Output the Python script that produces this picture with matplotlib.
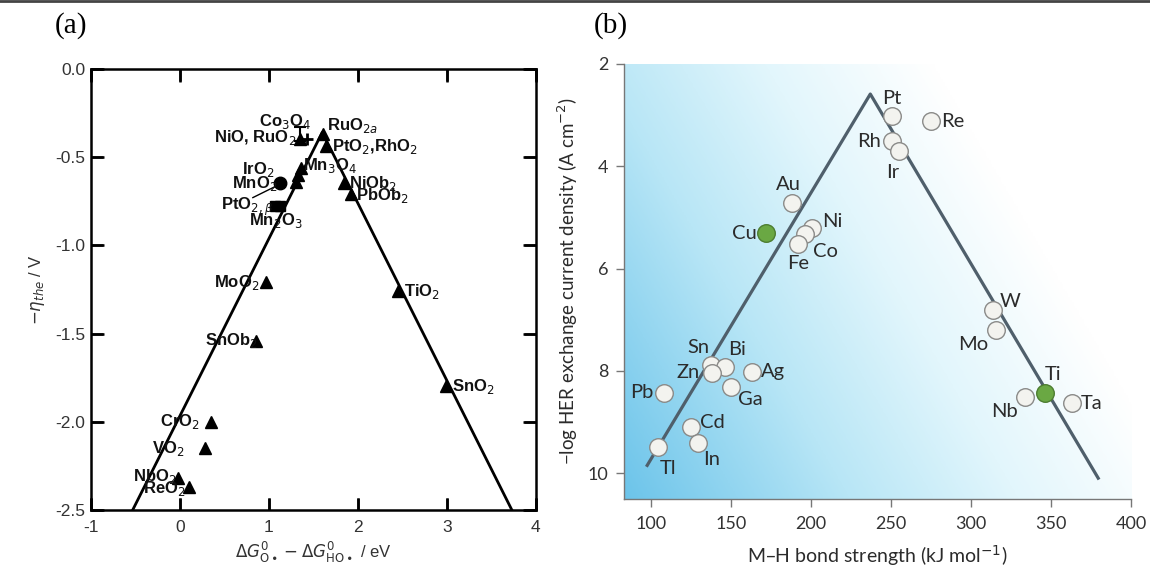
#!/usr/bin/env python3

import numpy as np
import matplotlib
matplotlib.use('Agg')
import matplotlib.pyplot as plt
import matplotlib.transforms as mtransforms
from matplotlib.colors import LinearSegmentedColormap
from matplotlib.lines import Line2D

plt.rcParams['axes.unicode_minus'] = False

# ---- panel (a): oxide OER volcano ----
# volcano line vertices (eV, V)
a_line_x = [-0.53, 1.60, 3.73]
a_line_y = [-2.5, -0.36, -2.5]

tri_x = [1.35, 1.61, 1.64, 1.36, 1.33, 1.31, 1.84, 1.92, 2.45, 2.99,
         0.97, 0.85, 0.35, 0.28, -0.02, 0.10]
tri_y = [-0.40, -0.37, -0.44, -0.56, -0.60, -0.64, -0.65, -0.71, -1.26, -1.80,
         -1.21, -1.54, -2.00, -2.15, -2.32, -2.37]
circ_x = [1.13]
circ_y = [-0.65]
sq_x = [1.07, 1.12]
sq_y = [-0.78, -0.78]
plus_x = [1.43]
plus_y = [-0.40]
err_x = [1.35]
err_y = [-0.37]
err_dy = [0.04]

a_xticks = [-1, 0, 1, 2, 3, 4]
a_yticks = [0.0, -0.5, -1.0, -1.5, -2.0, -2.5]
a_ytick_labels = ['0.0', '-0.5', '-1.0', '-1.5', '-2.0', '-2.5']

a_labels = ['Co$_3$O$_4$', 'NiO, RuO$_2$', 'RuO$_{2a}$', 'PtO$_2$,RhO$_2$',
            'Mn$_3$O$_4$', 'IrO$_2$', 'MnO$_2$', r'PtO$_{2,\beta}$', 'Mn$_2$O$_3$',
            'NiOb$_2$', 'PbOb$_2$', 'TiO$_2$', 'SnO$_2$', 'MoO$_2$', 'SnOb$_2$',
            'CrO$_2$', 'VO$_2$', 'NbO$_2$', 'ReO$_2$']
a_label_x = [1.18, 1.31, 1.65, 1.71, 1.38, 1.06, 1.09, 1.05, 1.08,
             1.90, 1.98, 2.52, 3.06, 0.89, 0.88, 0.22, 0.05, -0.04, 0.06]
a_label_y = [-0.30, -0.39, -0.32, -0.44, -0.55, -0.57, -0.65, -0.78, -0.86,
             -0.65, -0.72, -1.26, -1.80, -1.21, -1.54, -2.00, -2.15, -2.31, -2.38]
a_label_ha = ['center', 'right', 'left', 'left', 'left', 'right', 'right', 'right',
              'center', 'left', 'left', 'left', 'left', 'right', 'right', 'right',
              'right', 'right', 'right']

# ---- panel (b): metal HER volcano ----
b_line_x = [97, 237, 380]
b_line_y = [9.87, 2.59, 10.12]

metals = ['Pt', 'Re', 'Rh', 'Ir', 'W', 'Mo', 'Ti', 'Nb', 'Ta', 'Au', 'Cu', 'Ni',
          'Co', 'Fe', 'Sn', 'Bi', 'Zn', 'Ag', 'Ga', 'Pb', 'Cd', 'In', 'Tl']
bond_strength = [250.6, 275, 250.6, 255, 313.8, 315.6, 346, 334, 363, 188, 172, 200.6,
                 196, 192, 137.5, 146, 138, 163, 150, 108, 125, 129, 104.4]
log_j0 = [3.02, 3.12, 3.50, 3.71, 6.81, 7.20, 8.42, 8.50, 8.62, 4.72, 5.31, 5.21,
          5.33, 5.51, 7.89, 7.93, 8.03, 8.01, 8.31, 8.42, 9.09, 9.41, 9.49]
highlight = ['Cu', 'Ti']
# label offsets in pixels and alignment
b_off = {'Pt': (0, 18, 'center'), 'Re': (10, 0, 'left'), 'Rh': (-11, -1, 'right'),
         'Ir': (-6, -21, 'center'), 'W': (17, 9, 'center'), 'Mo': (-23, -14, 'center'),
         'Ti': (8, 18, 'center'), 'Nb': (-21, -15, 'center'), 'Ta': (9, -1, 'left'),
         'Au': (-4, 19, 'center'), 'Cu': (-10, 0, 'right'), 'Ni': (20, 7, 'center'),
         'Co': (21, -17, 'center'), 'Fe': (0, -20, 'center'), 'Sn': (-13, 18, 'center'),
         'Bi': (12, 18, 'center'), 'Zn': (-12, 0, 'right'), 'Ag': (9, 0, 'left'),
         'Ga': (19, -13, 'center'), 'Pb': (-10, 0, 'right'), 'Cd': (21, 4, 'center'),
         'In': (14, -16, 'center'), 'Tl': (10, -21, 'center')}


def style_axes_a(ax):
    ax.set_xlim(-1, 4)
    ax.set_ylim(-2.5, 0.0)
    ax.set_xticks(a_xticks)
    ax.set_yticks(a_yticks)
    ax.set_yticklabels(a_ytick_labels)
    ax.xaxis.set_ticks_position('both')
    ax.yaxis.set_ticks_position('both')
    ax.tick_params(which='major', direction='in', length=9, width=1.8,
                   color='black', labelsize=12.5, labelcolor='#333333')
    ax.tick_params(axis='x', pad=7)
    ax.tick_params(axis='y', pad=4)
    for lab in ax.get_xticklabels() + ax.get_yticklabels():
        lab.set_family('Liberation Sans')
    for sp in ax.spines.values():
        sp.set_linewidth(1.8)
    # inward tick stubs on all four sides (drawn explicitly so they always show)
    tl = 0.028
    bx = mtransforms.blended_transform_factory(ax.transData, ax.transAxes)
    by = mtransforms.blended_transform_factory(ax.transAxes, ax.transData)
    for xt in a_xticks:
        ax.plot([xt, xt], [0, tl], transform=bx, color='black', lw=1.8,
                clip_on=False, zorder=5, solid_capstyle='butt')
        ax.plot([xt, xt], [1 - tl, 1], transform=bx, color='black', lw=1.8,
                clip_on=False, zorder=5, solid_capstyle='butt')
    for yt in a_yticks:
        ax.plot([0, tl], [yt, yt], transform=by, color='black', lw=1.8,
                clip_on=False, zorder=5, solid_capstyle='butt')
        ax.plot([1 - tl, 1], [yt, yt], transform=by, color='black', lw=1.8,
                clip_on=False, zorder=5, solid_capstyle='butt')
    ax.set_xlim(-1, 4)
    ax.set_ylim(-2.5, 0.0)


def draw_panel_a(fig):
    ax = fig.add_axes([0.079, 0.1146, 0.387, 0.766])
    ax.plot(a_line_x, a_line_y, color='black', lw=2.0, zorder=2)
    ax.plot(tri_x, tri_y, '^', color='black', ms=8, zorder=3)
    ax.plot(circ_x, circ_y, 'o', color='black', ms=9, zorder=3)
    ax.plot(sq_x, sq_y, 's', color='black', ms=7, zorder=3)
    ax.plot(plus_x, plus_y, '+', color='black', ms=8, mew=2, zorder=3)
    ax.errorbar(err_x, err_y, yerr=err_dy, fmt='none', ecolor='black',
                elinewidth=1.5, capsize=4, capthick=1.5, zorder=3)
    # leader line PtO2 -> circle
    ax.plot([0.82, 1.10], [-0.73, -0.66], color='black', lw=1.0, zorder=2)

    for lab, x, y, ha in zip(a_labels, a_label_x, a_label_y, a_label_ha):
        ax.text(x, y, lab, ha=ha, va='center', fontsize=12, fontweight='bold',
                family='Liberation Sans', color='#111111', zorder=4)

    ax.set_xlabel(r'$\Delta G^{0}_{\mathrm{O}\bullet} - \Delta G^{0}_{\mathrm{HO}\bullet}$ / eV',
                  fontsize=12, family='Liberation Sans', color='#333333', labelpad=4)
    ax.set_ylabel(r'$-\eta_{the}$ / V', fontsize=12, family='Liberation Sans',
                  color='#333333', labelpad=6)
    style_axes_a(ax)
    return ax


def draw_panel_b(fig):
    ax = fig.add_axes([0.5426, 0.1337, 0.4409, 0.7555])
    # soft blue background, darkest at lower left, white towards upper right
    u, v = np.meshgrid(np.linspace(0, 1, 300), np.linspace(0, 1, 200))
    b = np.clip(1.0 - 0.9 * u - 0.45 * v, 0, 1)
    cmap = LinearSegmentedColormap.from_list(
        'bg', [(0.0, '#ffffff'), (0.3, '#e2f6fc'), (0.6, '#b8e6f6'), (1.0, '#6cc4ea')])
    ax.imshow(b, cmap=cmap, vmin=0, vmax=1, origin='lower', extent=[0, 1, 0, 1],
              transform=ax.transAxes, aspect='auto', zorder=0, interpolation='bilinear')

    ax.plot(b_line_x, b_line_y, color='#4f5f6b', lw=2.3, zorder=2, solid_capstyle='butt')
    for m, x, y in zip(metals, bond_strength, log_j0):
        if m in highlight:
            fc, ec = '#6aa843', '#4d7d31'
        else:
            fc, ec = '#f3f3ef', '#8a8a88'
        ax.scatter([x], [y], s=160, facecolor=fc, edgecolor=ec, linewidth=1.0, zorder=3)
        dx, dy, ha = b_off[m]
        ax.annotate(m, (x, y), xytext=(dx, dy), textcoords='offset pixels',
                    ha=ha, va='center', fontsize=14.5, family='Lato', color='#2b2b2b',
                    zorder=4)

    ax.set_xlim(83, 400)
    ax.set_ylim(10.5, 2)
    ax.set_xticks([100, 150, 200, 250, 300, 350, 400])
    ax.set_yticks([2, 4, 6, 8, 10])
    ax.tick_params(direction='out', length=6, width=1.0, color='#777777',
                   labelsize=13, labelcolor='#333333', pad=5)
    for lab in ax.get_xticklabels() + ax.get_yticklabels():
        lab.set_family('Lato')
    ax.tick_params(axis='x', pad=6)
    for s in ['top', 'right']:
        ax.spines[s].set_visible(False)
    for s in ['left', 'bottom']:
        ax.spines[s].set_color('#777777')
        ax.spines[s].set_linewidth(1.0)
    ax.set_xlabel('M\u2013H bond strength (kJ mol$^{-1}$)', fontsize=14, family='Lato',
                  color='#2b2b2b', labelpad=8)
    ax.set_ylabel('\u2212log HER exchange current density (A cm$^{-2}$)', fontsize=13.5,
                  family='Lato', color='#2b2b2b', labelpad=6)
    return ax


def main() -> int:
    fig = plt.figure(figsize=(11.5, 5.76), dpi=100)
    draw_panel_a(fig)
    draw_panel_b(fig)
    fig.text(0.048, 0.955, '(a)', fontsize=21, family='Liberation Serif',
             va='center', ha='left')
    fig.text(0.516, 0.955, '(b)', fontsize=21, family='Liberation Serif',
             va='center', ha='left')
    # thin rule along the top edge
    fig.add_artist(Line2D([0, 1], [0.998, 0.998], transform=fig.transFigure,
                          color='#444444', lw=2))
    fig.savefig('out.png', dpi=100)
    return 0


if __name__ == '__main__':
    exit(main())
